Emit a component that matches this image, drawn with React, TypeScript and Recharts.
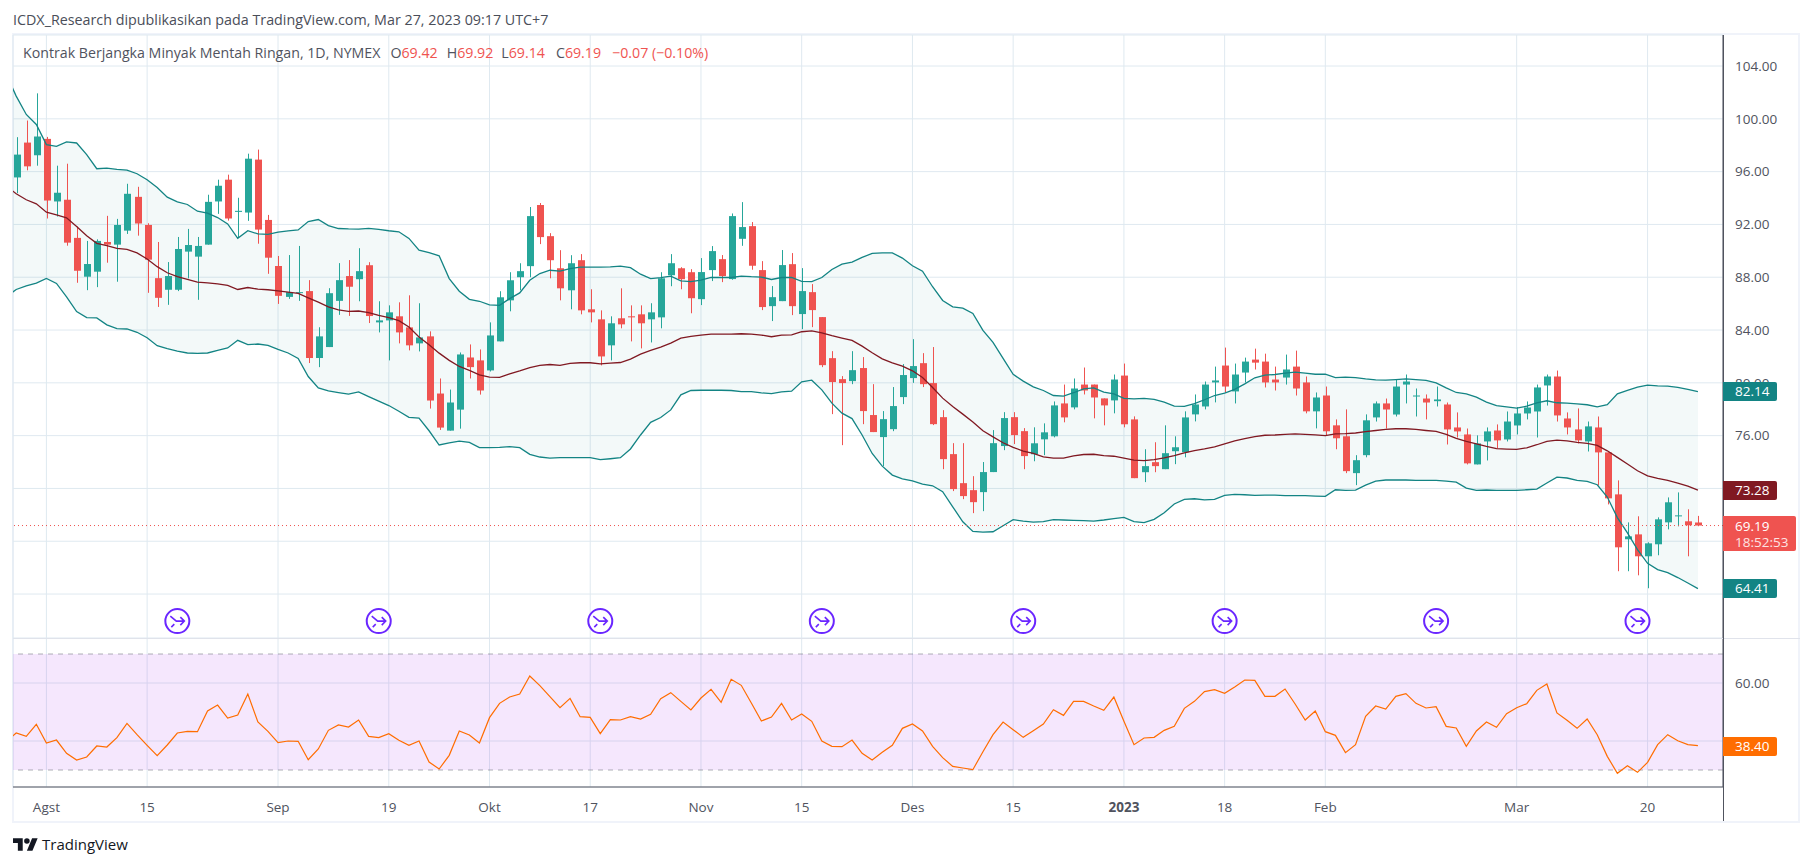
import {
  Area,
  Bar,
  CartesianGrid,
  ComposedChart,
  Line,
  ReferenceArea,
  ReferenceLine,
  XAxis,
  YAxis,
} from "recharts";

const FONT = "'Open Sans', 'Noto Sans', sans-serif";
const UP = "#26a69a";
const DOWN = "#ef5350";
const GRID = "#dfe9f0";
const AXIS = "#50535e";

// first slot of every series is the bar just left of the visible range
const opens = [null,
  95.56, 98.2, 97.24, 98.48, 93.74, 93.87, 90.98, 88.04, 88.42, 90.67,
  90.47, 91.53, 94.09, 91.96, 87.93, 87.05, 87.05, 89.94, 89.56, 90.47,
  93.74, 95.39, 92.95, 92.9, 96.91, 92.34, 88.85, 86.51, 86.82, 86.95,
  81.88, 82.71, 86.21, 88.09, 87.85, 88.91, 84.58, 84.73, 85.04, 84.2,
  82.99, 83.52, 79.19, 76.38, 77.97, 81.92, 81.7, 80.94, 83.14, 86.25,
  88.0, 88.84, 93.47, 91.11, 88.68, 87.01, 89.29, 85.57, 84.81, 82.84,
  84.89, 85.04, 85.19, 84.81, 84.96, 88.15, 88.68, 88.38, 86.34, 88.54,
  89.37, 87.86, 90.91, 91.87, 88.54, 85.81, 86.19, 88.99, 85.21, 86.87,
  84.98, 81.87, 80.28, 80.13, 81.12, 77.56, 75.89, 76.49, 78.92, 80.36,
  81.49, 79.98, 77.4, 74.6, 72.4, 71.87, 71.72, 73.24, 75.21, 77.4,
  76.34, 74.59, 75.72, 75.95, 78.44, 78.14, 79.87, 79.87, 78.82, 78.67,
  80.55, 77.23, 73.23, 73.99, 73.46, 74.82, 74.74, 77.61, 78.21, 80.03,
  81.31, 79.35, 80.78, 81.76, 81.61, 80.25, 80.4, 81.23, 80.03, 77.84,
  79.04, 76.78, 75.95, 73.16, 74.52, 77.38, 78.44, 77.6, 79.87, 78.97,
  78.81, 78.61, 78.36, 76.62, 76.09, 73.82, 75.56, 76.39, 75.71, 76.77,
  77.68, 77.83, 79.8, 80.48, 77.3, 76.47, 75.56, 76.62, 74.73, 71.55,
  68.15, 68.52, 66.86, 67.77, 69.43, 69.89, 69.51, 69.42,
];
const highs = [null,
  98.61, 99.87, 101.93, 98.63, 96.45, 96.6, 91.84, 90.75, 90.87, 92.65,
  92.42, 95.08, 94.85, 92.09, 90.67, 89.15, 91.05, 91.66, 91.05, 94.25,
  95.39, 95.77, 94.02, 97.36, 97.67, 92.72, 89.61, 89.68, 90.37, 87.78,
  84.21, 87.17, 89.07, 89.3, 90.2, 89.14, 86.18, 85.87, 86.1, 86.63,
  86.03, 83.9, 80.33, 79.49, 82.3, 82.91, 82.53, 84.58, 86.94, 88.38,
  89.06, 93.32, 93.62, 91.34, 90.05, 89.67, 89.75, 87.09, 85.49, 85.04,
  87.16, 85.87, 85.87, 86.03, 88.38, 89.75, 88.76, 88.61, 89.45, 90.36,
  89.68, 92.83, 93.69, 92.18, 89.22, 87.33, 90.06, 89.83, 88.69, 87.48,
  84.98, 82.4, 80.51, 82.4, 81.95, 79.9, 77.86, 79.68, 81.42, 83.31,
  82.25, 82.71, 77.93, 75.43, 75.43, 72.93, 74.0, 76.42, 77.78, 77.78,
  76.57, 76.63, 76.93, 78.59, 79.87, 80.33, 81.16, 79.87, 78.82, 80.63,
  81.46, 77.46, 74.97, 75.5, 76.78, 75.95, 77.84, 79.12, 80.1, 81.23,
  82.67, 81.46, 81.91, 82.59, 82.21, 81.23, 82.14, 82.44, 80.48, 79.27,
  79.72, 77.23, 77.99, 74.52, 77.61, 78.59, 78.81, 80.25, 80.63, 79.57,
  79.12, 79.72, 78.51, 77.76, 76.54, 76.02, 76.62, 76.85, 77.83, 78.16,
  78.59, 79.87, 80.63, 80.93, 77.76, 78.06, 77.07, 77.45, 74.73, 72.61,
  69.43, 69.89, 67.92, 69.81, 71.32, 71.7, 70.42, 69.92,
];
const lows = [null,
  94.37, 96.1, 96.45, 92.45, 92.6, 90.39, 87.58, 87.02, 87.25, 89.1,
  87.66, 91.28, 91.15, 86.82, 85.75, 85.91, 86.95, 87.91, 86.29, 90.47,
  92.8, 92.29, 91.0, 92.27, 90.54, 88.26, 85.98, 86.36, 86.21, 81.5,
  81.19, 82.71, 85.15, 85.07, 86.18, 84.53, 83.82, 81.7, 82.99, 82.46,
  82.38, 78.05, 76.43, 76.38, 76.53, 80.33, 79.11, 80.86, 83.14, 85.42,
  87.01, 88.0, 90.51, 87.92, 86.25, 85.57, 85.19, 84.58, 81.32, 81.7,
  84.13, 83.14, 82.61, 83.06, 84.13, 87.32, 87.09, 85.27, 85.89, 87.71,
  87.63, 87.81, 90.38, 88.57, 85.51, 84.68, 86.19, 85.13, 84.07, 84.22,
  81.19, 77.63, 75.28, 79.9, 76.87, 76.27, 73.69, 76.34, 78.39, 80.0,
  79.68, 76.8, 73.46, 71.8, 71.19, 70.13, 70.28, 73.24, 74.9, 75.36,
  73.46, 74.06, 74.52, 75.87, 77.01, 77.99, 79.12, 77.31, 76.78, 77.69,
  76.63, 72.78, 72.48, 73.23, 73.46, 73.84, 74.36, 77.08, 77.99, 78.52,
  79.27, 78.44, 80.03, 81.01, 79.65, 79.42, 79.87, 79.04, 77.69, 76.55,
  76.03, 74.97, 73.16, 72.25, 74.36, 77.07, 76.54, 77.45, 78.44, 77.45,
  77.23, 78.21, 75.33, 75.86, 73.82, 73.82, 74.12, 75.03, 75.56, 76.09,
  77.23, 75.86, 78.28, 77.07, 76.09, 75.41, 74.8, 72.23, 70.79, 65.73,
  65.73, 65.42, 64.44, 66.94, 68.9, 69.13, 66.86, 69.14,
];
const closes = [null,
  97.29, 96.4, 98.66, 93.81, 94.4, 90.62, 88.49, 89.0, 90.75, 90.47,
  91.96, 94.32, 92.07, 89.33, 86.44, 88.09, 90.14, 90.44, 90.37, 93.71,
  94.93, 92.45, 93.03, 96.98, 91.61, 89.48, 86.59, 86.87, 86.87, 81.88,
  83.52, 86.79, 87.78, 87.28, 88.46, 85.06, 84.73, 85.34, 83.82, 82.84,
  83.44, 78.66, 76.61, 78.51, 82.15, 81.19, 79.42, 83.59, 86.48, 87.77,
  88.46, 92.63, 91.04, 89.29, 87.16, 89.06, 85.49, 85.34, 82.0, 84.51,
  84.43, 84.96, 84.51, 85.34, 87.92, 89.06, 87.85, 86.41, 88.39, 89.98,
  88.09, 92.63, 91.8, 88.87, 85.74, 86.49, 88.92, 85.81, 86.95, 85.51,
  81.34, 80.06, 79.98, 80.96, 77.86, 76.27, 77.25, 78.24, 80.59, 81.27,
  79.9, 76.87, 74.22, 71.95, 71.42, 70.96, 73.24, 75.43, 77.33, 76.04,
  74.45, 75.42, 76.25, 78.29, 77.38, 79.57, 79.42, 78.89, 78.29, 80.25,
  76.86, 72.78, 73.69, 73.69, 74.67, 75.12, 77.38, 78.36, 79.87, 80.18,
  79.72, 80.63, 81.61, 81.53, 80.03, 80.03, 81.01, 79.57, 77.84, 78.89,
  76.33, 75.8, 73.31, 74.14, 77.16, 78.44, 77.98, 79.72, 80.1, 79.04,
  78.51, 78.74, 76.47, 76.32, 73.9, 75.41, 76.32, 75.64, 77.07, 77.68,
  78.13, 79.65, 80.48, 77.53, 76.62, 75.64, 76.7, 74.73, 71.25, 67.54,
  68.37, 66.86, 67.84, 69.66, 70.95, 69.96, 69.21, 69.19,
];
const upperBand = [103.4,
  101.72, 100.33, 99.57, 98.05, 97.92, 98.25, 98.17, 97.29, 96.22, 96.27,
  96.17, 96.12, 95.84, 95.39, 94.8, 94.07, 93.71, 93.51, 93.0, 92.85,
  92.52, 92.04, 90.95, 91.53, 91.28, 91.25, 91.41, 91.51, 91.58, 92.22,
  92.37, 91.91, 91.69, 91.66, 91.65, 91.7, 91.62, 91.52, 91.44, 90.94,
  90.05, 89.87, 89.62, 87.9, 86.94, 86.33, 86.18, 85.9, 85.87, 86.38,
  86.81, 87.77, 88.28, 88.53, 88.46, 88.66, 88.76, 88.76, 88.76, 88.78,
  88.84, 88.73, 88.23, 87.9, 87.97, 88.08, 87.72, 87.67, 87.78, 87.98,
  87.98, 87.98, 88.09, 88.04, 88.01, 87.83, 87.98, 87.98, 87.68, 87.66,
  87.98, 88.59, 88.99, 89.15, 89.5, 89.8, 89.85, 89.85, 89.45, 88.87,
  88.46, 87.28, 86.24, 85.76, 85.66, 85.26, 83.97, 83.06, 81.85, 80.64,
  80.13, 79.7, 79.42, 79.04, 78.99, 79.25, 79.55, 79.62, 79.3, 79.17,
  78.82, 78.79, 78.82, 78.74, 78.54, 78.24, 78.21, 78.42, 78.72, 79.04,
  79.22, 79.5, 79.92, 80.38, 80.58, 80.63, 80.73, 80.81, 80.73, 80.65,
  80.65, 80.4, 80.43, 80.4, 80.3, 80.23, 80.2, 80.25, 80.3, 80.25,
  80.18, 80.0, 79.62, 79.27, 79.17, 78.92, 78.54, 78.28, 78.18, 78.08,
  78.23, 78.49, 78.64, 78.49, 78.46, 78.41, 78.34, 78.18, 78.34, 79.17,
  79.42, 79.67, 79.82, 79.77, 79.75, 79.65, 79.5, 79.34,
];
const basis = [94.93,
  94.32, 93.87, 93.56, 92.93, 92.72, 92.5, 91.84, 91.15, 90.57, 90.39,
  90.19, 90.11, 89.84, 89.38, 88.8, 88.34, 88.04, 87.83, 87.63, 87.58,
  87.5, 87.38, 87.07, 87.22, 87.1, 87.05, 86.97, 86.87, 86.77, 86.44,
  86.11, 85.75, 85.53, 85.42, 85.44, 85.32, 85.11, 84.94, 84.71, 84.23,
  83.47, 82.89, 82.25, 81.7, 81.24, 80.94, 80.61, 80.43, 80.41, 80.68,
  80.91, 81.16, 81.32, 81.39, 81.32, 81.47, 81.52, 81.52, 81.44, 81.49,
  81.54, 81.8, 82.18, 82.46, 82.71, 83.01, 83.39, 83.52, 83.62, 83.69,
  83.69, 83.69, 83.72, 83.69, 83.62, 83.49, 83.62, 83.64, 83.87, 83.94,
  83.79, 83.57, 83.39, 83.21, 82.78, 82.28, 81.82, 81.52, 81.27, 80.91,
  80.41, 79.65, 78.84, 78.21, 77.63, 77.03, 76.37, 75.91, 75.46, 75.11,
  74.83, 74.65, 74.39, 74.29, 74.29, 74.47, 74.57, 74.59, 74.49, 74.44,
  74.29, 74.14, 74.11, 74.19, 74.31, 74.49, 74.69, 74.87, 74.99, 75.14,
  75.37, 75.6, 75.77, 75.92, 76.03, 76.05, 76.1, 76.13, 76.1, 76.05,
  76.0, 76.13, 76.15, 76.2, 76.3, 76.39, 76.47, 76.52, 76.52, 76.47,
  76.39, 76.32, 76.09, 75.79, 75.56, 75.38, 75.18, 75.01, 74.98, 74.96,
  75.08, 75.31, 75.56, 75.66, 75.61, 75.49, 75.41, 75.26, 74.85, 74.35,
  73.85, 73.34, 72.96, 72.76, 72.61, 72.41, 72.18, 71.88,
];
const lowerBand = [86.51,
  87.07, 87.35, 87.55, 87.91, 87.53, 86.51, 85.4, 84.94, 84.92, 84.39,
  84.11, 84.08, 83.83, 83.42, 82.81, 82.59, 82.41, 82.26, 82.23, 82.26,
  82.46, 82.64, 83.22, 82.89, 82.94, 82.84, 82.53, 82.26, 81.85, 80.48,
  79.62, 79.39, 79.26, 79.14, 79.32, 78.96, 78.61, 78.28, 77.85, 77.39,
  77.32, 76.37, 75.29, 75.46, 75.59, 75.49, 75.09, 75.09, 75.11, 75.16,
  75.09, 74.58, 74.38, 74.3, 74.33, 74.33, 74.33, 74.33, 74.18, 74.25,
  74.33, 74.99, 76.05, 77.01, 77.37, 77.95, 79.09, 79.42, 79.44, 79.44,
  79.44, 79.42, 79.34, 79.34, 79.24, 79.19, 79.32, 79.37, 80.08, 80.2,
  79.47, 78.46, 77.7, 77.29, 76.05, 74.65, 73.69, 73.01, 72.73, 72.58,
  72.33, 72.2, 71.75, 70.61, 69.47, 68.74, 68.69, 68.72, 69.17, 69.63,
  69.53, 69.45, 69.48, 69.64, 69.61, 69.58, 69.56, 69.53, 69.61, 69.71,
  69.81, 69.48, 69.41, 69.66, 70.16, 70.82, 71.17, 71.22, 71.14, 71.17,
  71.47, 71.55, 71.52, 71.47, 71.5, 71.5, 71.45, 71.45, 71.45, 71.42,
  71.4, 71.9, 71.85, 71.87, 72.25, 72.56, 72.64, 72.64, 72.64, 72.61,
  72.61, 72.61, 72.56, 72.48, 72.03, 71.85, 71.88, 71.85, 71.85, 71.85,
  71.9, 71.95, 72.41, 72.86, 72.79, 72.61, 72.53, 72.28, 71.35, 69.79,
  68.63, 67.36, 66.33, 65.85, 65.62, 65.25, 64.84, 64.41,
];
const rsi = [39.77,
  42.76, 41.61, 45.75, 39.31, 40.34, 35.75, 33.45, 34.48, 38.28, 37.93,
  41.15, 46.09, 42.18, 38.51, 34.94, 38.62, 42.76, 43.33, 43.22, 50.34,
  52.41, 47.93, 48.97, 56.21, 46.55, 43.33, 39.43, 40.0, 39.89, 33.56,
  37.24, 43.68, 45.52, 44.83, 47.24, 41.61, 41.15, 42.53, 40.23, 38.51,
  40.0, 32.76, 30.34, 35.06, 43.45, 42.07, 39.31, 48.05, 52.99, 55.17,
  56.21, 62.41, 59.08, 55.29, 51.49, 54.71, 48.39, 48.16, 42.53, 47.36,
  47.24, 48.39, 47.59, 49.2, 54.6, 56.67, 53.68, 50.69, 54.83, 57.82,
  53.33, 61.26, 59.2, 53.1, 46.9, 48.28, 52.99, 47.24, 49.31, 46.78,
  40.0, 38.16, 38.05, 40.34, 35.75, 33.45, 36.09, 38.51, 44.37, 45.86,
  43.45, 38.16, 34.25, 31.26, 30.69, 30.11, 36.32, 42.18, 46.55, 43.91,
  41.26, 43.56, 45.86, 50.8, 48.85, 53.68, 53.68, 52.07, 50.57, 55.17,
  46.78, 38.74, 41.03, 41.26, 43.68, 45.06, 51.26, 53.68, 57.01, 57.7,
  56.44, 58.62, 61.03, 60.92, 55.4, 55.4, 57.93, 52.76, 47.24, 50.34,
  43.22, 41.95, 35.98, 38.74, 48.51, 52.07, 51.03, 55.4, 56.32, 52.99,
  51.38, 51.84, 45.06, 44.48, 38.16, 43.45, 46.55, 44.71, 49.43, 51.49,
  52.87, 57.47, 59.66, 49.66, 47.13, 44.37, 47.59, 42.18, 34.71, 28.85,
  31.49, 29.2, 32.64, 38.74, 42.18, 40.11, 38.74, 38.4,
];

const timeTicks = [3, 13, 26, 37, 47, 57, 68, 78, 89, 99, 110, 120, 130, 149, 162];
const timeLabels = ["Agst", "15", "Sep", "19", "Okt", "17", "Nov", "15", "Des", "15", "2023", "18", "Feb", "Mar", "20"];
const priceTicks = [64, 68, 72, 76, 80, 84, 88, 92, 96, 100, 104];
const hiddenPriceLabels = [64, 68, 72]; // covered by the value tags in the original
const rsiTicks = [40, 60];
const eventBars = [16, 36, 58, 80, 100, 120, 141, 161];
const EVENT_LEVEL = 61.95;
const LAST_CLOSE = 69.19;

const rows = opens.map((open, k) => ({
  i: k - 1,
  open,
  high: highs[k],
  low: lows[k],
  close: closes[k],
  hl: open == null ? null : [lows[k], highs[k]],
  upper: upperBand[k],
  basis: basis[k],
  lower: lowerBand[k],
  band: [lowerBand[k], upperBand[k]],
  rsi: rsi[k],
  event: eventBars.includes(k - 1) ? EVENT_LEVEL : null,
}));

const X_DOMAIN: [number, number] = [-0.318, 169.49];

function Candle(props: any) {
  const { x, y, width, height, payload } = props;
  if (payload.open == null) return null;
  const { open, high, low, close } = payload;
  const perUnit = height / (high - low);
  const up = close >= open;
  const color = up ? UP : DOWN;
  const top = y + (high - Math.max(open, close)) * perUnit;
  const bottom = y + (high - Math.min(open, close)) * perUnit;
  const cx = Math.round(x + width / 2);
  return (
    <g>
      <rect x={cx} y={y} width={1} height={height} fill={color} />
      <rect x={cx - 3} y={top} width={7} height={Math.max(bottom - top, 1)} fill={color} />
    </g>
  );
}

function EventDot(props: any) {
  const { cx, cy, value } = props;
  if (value == null || cy == null) return <g key={props.key} />;
  return (
    <g key={props.key} transform={`translate(${cx},${cy})`} fill="none" stroke="#6a26ff" strokeWidth={1.6}>
      <circle r={12} fill="#fff" strokeWidth={2} />
      <path d="M-7 -5 L-1 0 L7 0 M3 -4 L7 0 L3 4 M-6 6 L-3 3" />
    </g>
  );
}

function TimeTick(props: any) {
  const { x, y, payload } = props;
  const label = timeLabels[timeTicks.indexOf(payload.value)];
  return (
    <text
      x={x}
      y={y + 17}
      textAnchor="middle"
      fontFamily={FONT}
      fontSize={13.5}
      fontWeight={label === "2023" ? 700 : 400}
      fill={AXIS}
    >
      {label}
    </text>
  );
}

function Tag({ top, height, width = 54, color, children }: any) {
  return (
    <div
      style={{
        position: "absolute",
        left: 1723,
        top,
        width,
        height,
        background: color,
        borderRadius: "0 2px 2px 0",
        color: "#fff",
        fontFamily: FONT,
        fontSize: 13.5,
        lineHeight: `${height}px`,
        paddingLeft: 12,
        boxSizing: "border-box",
      }}
    >
      {children}
    </div>
  );
}

function Ohlc({ name, value, gap = 6 }: { name: string; value: string; gap?: number }) {
  return (
    <span style={{ marginLeft: gap }}>
      {name}
      <span style={{ color: DOWN }}>{value}</span>
    </span>
  );
}

export default function App() {
  return (
    <div style={{ position: "absolute", left: 0, top: 0, width: 1813, height: 866, background: "#fff", overflow: "hidden" }}>
      <div
        style={{
          position: "absolute",
          left: 13,
          top: 10,
          fontFamily: FONT,
          fontSize: 14.3,
          lineHeight: "20px",
          color: "#4a4e59",
          whiteSpace: "nowrap",
        }}
      >
        ICDX_Research dipublikasikan pada TradingView.com, Mar 27, 2023 09:17 UTC+7
      </div>

      <div style={{ position: "absolute", left: 12, top: 33, width: 1788, height: 790, border: "2px solid #f0f3fa", boxSizing: "border-box" }} />

      <div style={{ position: "absolute", left: 0, top: 0 }}>
        <ComposedChart width={1813} height={638} data={rows} margin={{ top: 35, right: 13, bottom: 0, left: 13 }}>
          <CartesianGrid stroke={GRID} />
          <XAxis
            dataKey="i"
            type="number"
            domain={X_DOMAIN}
            allowDataOverflow
            ticks={timeTicks}
            hide
          />
          <YAxis
            orientation="right"
            width={77}
            domain={[60.67, 106.35]}
            allowDataOverflow
            ticks={priceTicks}
            tickFormatter={(v: number) => (hiddenPriceLabels.includes(v) ? "" : v.toFixed(2))}
            tick={{ fill: AXIS, fontSize: 13.5, fontFamily: FONT, textAnchor: "start", dx: -2 }}
            tickLine={false}
            tickMargin={8}
            stroke={AXIS}
          />
          <Area dataKey="band" stroke="none" fill="#138484" fillOpacity={0.05} isAnimationActive={false} connectNulls />
          <Line dataKey="upper" stroke="#138484" strokeWidth={1.3} dot={false} isAnimationActive={false} />
          <Line dataKey="lower" stroke="#138484" strokeWidth={1.3} dot={false} isAnimationActive={false} />
          <Line dataKey="basis" stroke="#801922" strokeWidth={1.3} dot={false} isAnimationActive={false} />
          <ReferenceLine y={LAST_CLOSE} stroke={DOWN} strokeDasharray="1 3" />
          <Bar dataKey="hl" barSize={7} shape={Candle} isAnimationActive={false} />
          <Line dataKey="event" stroke="none" dot={EventDot} isAnimationActive={false} legendType="none" />
        </ComposedChart>
      </div>

      <div style={{ position: "absolute", left: 0, top: 638 }}>
        <ComposedChart width={1813} height={228} data={rows} margin={{ top: 0, right: 13, bottom: 45, left: 13 }}>
          <CartesianGrid stroke={GRID} />
          <XAxis
            dataKey="i"
            type="number"
            domain={X_DOMAIN}
            allowDataOverflow
            ticks={timeTicks}
            height={34}
            tick={TimeTick}
            tickLine={false}
            stroke={AXIS}
          />
          <YAxis
            orientation="right"
            width={77}
            domain={[24.14, 75.52]}
            allowDataOverflow
            ticks={rsiTicks}
            tickFormatter={(v: number) => v.toFixed(2)}
            tick={{ fill: AXIS, fontSize: 13.5, fontFamily: FONT, textAnchor: "start", dx: -2 }}
            tickLine={false}
            tickMargin={8}
            stroke={AXIS}
          />
          <ReferenceArea y1={30} y2={70} fill="#9c10f0" fillOpacity={0.1} stroke="none" />
          <ReferenceLine y={70} stroke="#787b86" strokeOpacity={0.6} strokeDasharray="5 5" />
          <ReferenceLine y={30} stroke="#787b86" strokeOpacity={0.6} strokeDasharray="5 5" />
          <Line dataKey="rsi" stroke="#ff6d00" strokeWidth={1.2} dot={false} isAnimationActive={false} />
        </ComposedChart>
      </div>

      <div style={{ position: "absolute", left: 13, top: 638, width: 1787, height: 1, background: "#e0e3eb" }} />
      <div style={{ position: "absolute", left: 1723, top: 35, width: 1, height: 786, background: AXIS }} />

      <div
        style={{
          position: "absolute",
          left: 23,
          top: 43,
          fontFamily: FONT,
          fontSize: 14.2,
          lineHeight: "20px",
          color: AXIS,
          whiteSpace: "nowrap",
        }}
      >
        Kontrak Berjangka Minyak Mentah Ringan, 1D, NYMEX
        <Ohlc name="O" value="69.42" gap={10} />
        <Ohlc name="H" value="69.92" gap={9} />
        <Ohlc name="L" value="69.14" gap={8} />
        <Ohlc name="C" value="69.19" gap={11} />
        <span style={{ color: DOWN, marginLeft: 11 }}>−0.07 (−0.10%)</span>
      </div>

      <Tag top={382} height={19} color="#138484">82.14</Tag>
      <Tag top={481} height={19} color="#801922">73.28</Tag>
      <Tag top={579} height={19} color="#138484">64.41</Tag>
      <div
        style={{
          position: "absolute",
          left: 1723,
          top: 516,
          width: 73,
          height: 35,
          background: DOWN,
          borderRadius: "0 2px 2px 0",
          color: "#fff",
          fontFamily: FONT,
          fontSize: 13.5,
          lineHeight: "16px",
          paddingLeft: 12,
          paddingTop: 2,
          boxSizing: "border-box",
        }}
      >
        <div>69.19</div>
        <div style={{ color: "#fde3e2" }}>18:52:53</div>
      </div>
      <Tag top={737} height={19} color="#ff6d00">38.40</Tag>

      <svg style={{ position: "absolute", left: 13, top: 838 }} width={25} height={13} viewBox="0 0 36 18" fill="#131722">
        <path d="M14 18H7V7H0V0h14v18zM28 18h-8l7.5-18h8L28 18z" />
        <circle cx="20" cy="4" r="4" />
      </svg>
      <div
        style={{
          position: "absolute",
          left: 42,
          top: 834,
          fontFamily: FONT,
          fontSize: 15,
          lineHeight: "20px",
          color: "#131722",
        }}
      >
        TradingView
      </div>
    </div>
  );
}
